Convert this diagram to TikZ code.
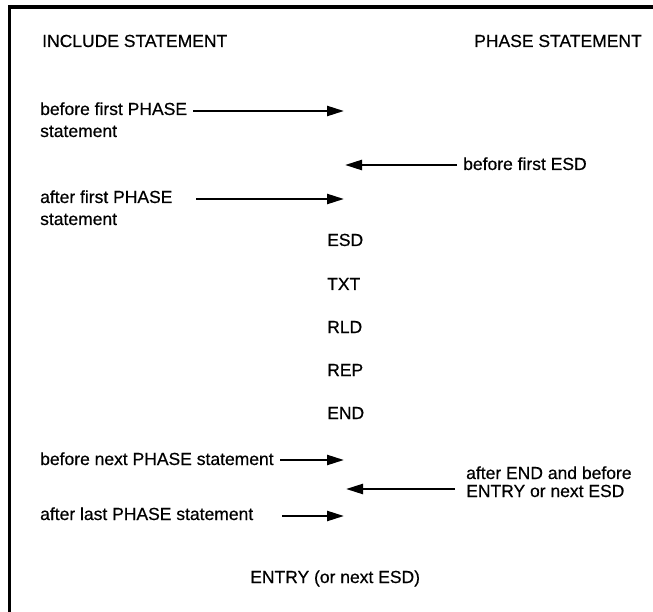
\documentclass[tikz,border=0pt]{standalone}
\usepackage{fontspec}
\setmainfont[FakeBold=0.5]{Liberation Sans}
\usetikzlibrary{arrows.meta}
\begin{document}
\begin{tikzpicture}[x=1pt,y=-1pt,
  txt/.style={anchor=base west,inner sep=0pt,font=\fontsize{17.5}{21}\selectfont},
  txtr/.style={txt,anchor=base east},
  arr/.style={line width=2.4pt,-{Triangle[length=17pt,width=10pt]}}]
\useasboundingbox (0,0) rectangle (653,612);
\draw[line width=3.5pt,line join=miter] (653,7) -- (9.5,7) -- (9.5,612);
% headings
\node[txt] (h1) at (42,47) {INCLUDE STATEMENT};
\node[txtr] (h2) at (642,47) {PHASE STATEMENT};
% left texts
\node[txt] (b1) at (40,115) {before first PHASE};
\node[txt] (b1s) at (40,137) {statement};
\node[txt] (a1) at (40,203) {after first PHASE};
\node[txt] (a1s) at (40,225) {statement};
\node[txt] (bn) at (40,465) {before next PHASE statement};
\node[txt] (al) at (40,520) {after last PHASE statement};
% right texts
\node[txt] (bf) at (463,170) {before first ESD};
\node[txt] (ae1) at (466,479) {after END and before};
\node[txt] (ae2) at (466,497) {ENTRY or next ESD};
% middle column
\node[txt] (esd) at (327,246) {ESD};
\node[txt] (txt) at (327,290) {TXT};
\node[txt] (rld) at (327,333) {RLD};
\node[txt] (rep) at (327,376) {REP};
\node[txt] (end) at (327,419) {END};
\node[txt] (entry) at (250,583) {ENTRY (or next ESD)};
% arrow ends
\coordinate (t1) at (193,111);  \coordinate (p1) at (344,111);
\coordinate (t2) at (457,165);  \coordinate (p2) at (345,165);
\coordinate (t3) at (196,199);  \coordinate (p3) at (344,199);
\coordinate (t4) at (280,460);  \coordinate (p4) at (344,460);
\coordinate (t5) at (455,489);  \coordinate (p5) at (346,489);
\coordinate (t6) at (282,516);  \coordinate (p6) at (344,516);
\draw[arr] (t1) -- (p1);
\draw[arr] (t2) -- (p2);
\draw[arr] (t3) -- (p3);
\draw[arr] (t4) -- (p4);
\draw[arr] (t5) -- (p5);
\draw[arr] (t6) -- (p6);
\end{tikzpicture}
\end{document}
